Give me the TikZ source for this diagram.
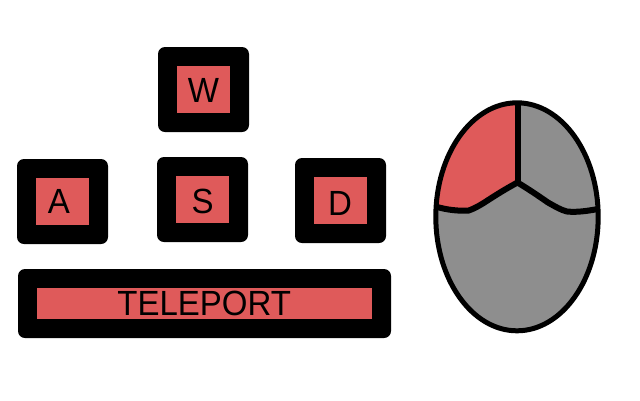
\documentclass[tikz,border=0pt]{standalone}
\usepackage{graphicx}
\usepackage{fontspec}
\setmainfont{Liberation Sans}
\definecolor{keyred}{HTML}{DF5A5A}
\definecolor{mousegray}{HTML}{8E8E8E}
\newcommand{\keylabel}[1]{\scalebox{1}[1.06]{#1}}
\tikzset{
  keybody/.style={fill=black,draw=none,rounded corners=7pt,inner sep=0pt,minimum width=91pt,minimum height=85pt},
  keyface/.style={fill=keyred,draw=none,inner sep=0pt,minimum width=53pt,minimum height=47pt},
  keytext/.style={inner sep=0pt,text=black,font=\fontsize{33}{33}\selectfont},
  mouseline/.style={draw=black,line width=6pt,line join=round}
}
\begin{document}
\begin{tikzpicture}[x=1pt,y=-1pt]
\useasboundingbox (0,0) rectangle (640,400);
% keys
\node[keybody] (wbody) at (203.5,89.5) {};
\node[keyface] (wface) at (203.5,89.5) {};
\node[keytext] (wtext) at (203.5,90) {\keylabel{W}};
\node[keybody] (abody) at (62.5,201.5) {};
\node[keyface] (aface) at (62.5,201.5) {};
\node[keytext] (atext) at (59,201.7) {\keylabel{A}};
\node[keybody] (sbody) at (202.5,199.5) {};
\node[keyface] (sface) at (202.5,199.5) {};
\node[keytext] (stext) at (202.7,201) {\keylabel{S}};
\node[keybody] (dbody) at (340.5,200.5) {};
\node[keyface] (dface) at (340.5,200.5) {};
\node[keytext] (dtext) at (340,203) {\keylabel{D}};
\node[keybody,minimum width=373pt,minimum height=69pt] (tbody) at (204.5,303.5) {};
\node[keyface,minimum width=335pt,minimum height=31pt] (tface) at (204.5,303.5) {};
\node[keytext] (ttext) at (204.2,303.2) {\keylabel{TELEPORT}};
% mouse
\fill[mousegray] (517,216.8) ellipse [x radius=81.2, y radius=114];
\begin{scope}
  \clip (517,216.8) ellipse [x radius=81.2, y radius=114];
  \fill[keyred] (517,90) -- (517,183.5) .. controls (500,192) and (490,199) .. (482,204)
     .. controls (476,207.5) and (472,209.5) .. (468,210.7)
     .. controls (457,211.5) and (447,210) .. (430,205.5) -- (430,90) -- cycle;
\end{scope}
\draw[mouseline] (517.5,101) -- (517.5,184);
\draw[mouseline] (436,206.7) .. controls (447,209.8) and (457,211) .. (468,210.7)
   .. controls (472,209.5) and (476,207.5) .. (482,204)
   .. controls (490,199) and (500,192) .. (517.5,182.5)
   .. controls (530,190) and (540,197) .. (548,202.5)
   .. controls (556,207) and (561,210) .. (567,211.5)
   .. controls (577,212.5) and (587,211) .. (598,209);
\draw[black,line width=5pt] (517,216.8) ellipse [x radius=81.2, y radius=114];
\end{tikzpicture}
\end{document}
